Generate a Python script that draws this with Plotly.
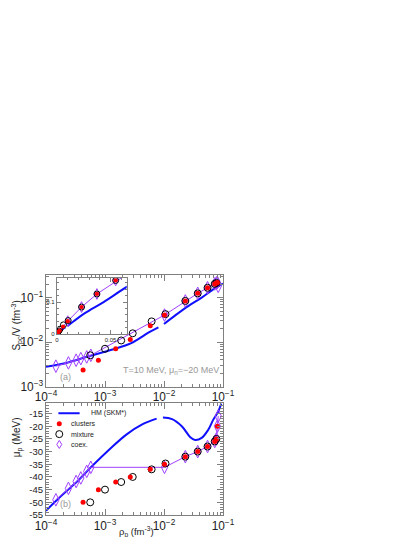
import plotly.graph_objects as go

# HM (SKM*) curves, S_pc/V vs rho (None = gap in the curve)
hm_rho_a = [1.0e-4, 2.2e-4, 5.3e-4, 1.29e-3, 2.79e-3, 5.62e-3, 8.04e-3, None,
            1.0e-2, 1.57e-2, 2.61e-2, 4.35e-2, 6.81e-2, 1.0e-1]
hm_spc = [2.78e-3, 3.4e-3, 4.81e-3, 6.75e-3, 9.5e-3, 1.67e-2, 2.15e-2, None,
          2.55e-2, 4.05e-2, 6.55e-2, 1.0e-1, 1.53e-1, 2.08e-1]

# HM (SKM*) curve, mu_p vs rho
hm_rho_b = [1.0e-4, 1.78e-4, 3.37e-4, 6.0e-4, 1.21e-3, 2.3e-3, 4.35e-3, 7.5e-3, None,
            9.6e-3, 1.37e-2, 2.02e-2, 2.79e-2, 3.37e-2, 4.35e-2, 5.62e-2, 6.81e-2,
            8.26e-2, 9.38e-2]
hm_mu = [-53.3, -47.6, -41.8, -35.8, -29.0, -23.3, -19.2, -17.0, None,
         -16.6, -17.2, -20.1, -24.3, -25.4, -24.6, -21.4, -17.5, -14.3, -11.0]

# clusters
clu_rho = [4.25e-4, 7.73e-4, 1.52e-3, 2.68e-3, 5.85e-3, 1.02e-2, 2.30e-2, 3.73e-2,
           5.47e-2, 7.24e-2, 7.73e-2, 8.04e-2]
clu_spc = [2.35e-3, 3.92e-3, 7.10e-3, 1.15e-2, 2.35e-2, 4.07e-2, 8.45e-2, 0.125,
           0.167, 0.204, 0.215, 0.22]
clu_mu = [-50, -45, -42, -40, -37, -35, -32, -30, -28, -26, -25, -20]

# mixture
mix_rho = [5.62e-4, 1.0e-3, 1.88e-3, 2.95e-3, 6.17e-3, 1.06e-2, 2.30e-2, 3.73e-2,
           5.47e-2, 7.24e-2, 7.73e-2]
mix_spc = [5.06e-3, 7.10e-3, 1.09e-2, 1.58e-2, 2.93e-2, 4.26e-2, 8.45e-2, 0.125,
           0.167, 0.204, 0.215]
mix_mu = [-50, -45, -42, -40, -37, -34.7, -32, -30, -28, -26, -25]

# coexistence
coex_rho = [1.47e-4, 2.40e-4, 3.24e-4, 3.89e-4, 4.90e-4, 5.75e-4, 1.02e-2, 2.30e-2,
            3.73e-2, 5.47e-2, 7.24e-2, 7.73e-2, 8.04e-2, 8.30e-2]
coex_spc = [2.88e-3, 3.41e-3, 3.92e-3, 4.26e-3, 4.65e-3, 5.06e-3, 4.07e-2, 8.45e-2,
            0.125, 0.167, 0.204, 0.215, 0.22, 0.18]
coex_mu = [-49.0, -44.5, -41.8, -40.4, -37.8, -36.2, -36.2, -32, -30, -28, -26, -25,
           -20, -16]

BLUE = "#1010ff"
PURPLE = "#a040ff"
GRAY = "#808080"
FONT = "Liberation Sans, Arial, sans-serif"

fig = go.Figure()


def add_series(x, y, xa, ya, msize=1.0):
    fig.add_trace(go.Scatter(
        x=x["hm"], y=y["hm"], xaxis=xa, yaxis=ya, mode="lines",
        line=dict(color=BLUE, width=2, shape="spline"), connectgaps=False,
        name="HM (SKM*)"))
    fig.add_trace(go.Scatter(
        x=x["coex"], y=y["coex"], xaxis=xa, yaxis=ya, mode="lines+markers",
        line=dict(color=PURPLE, width=1),
        marker=dict(symbol="diamond-tall-open", size=9 * msize, color=PURPLE,
                    line=dict(width=1)),
        name="coex."))
    fig.add_trace(go.Scatter(
        x=x["mix"], y=y["mix"], xaxis=xa, yaxis=ya, mode="markers",
        marker=dict(symbol="circle-open", size=7 * msize, color="black",
                    line=dict(width=1)),
        name="mixture"))
    fig.add_trace(go.Scatter(
        x=x["clu"], y=y["clu"], xaxis=xa, yaxis=ya, mode="markers",
        marker=dict(symbol="circle", size=5 * msize, color="#ff0000"),
        name="clusters"))


rho_a = dict(hm=hm_rho_a, coex=coex_rho, mix=mix_rho, clu=clu_rho)
spc = dict(hm=hm_spc, coex=coex_spc, mix=mix_spc, clu=clu_spc)
rho_b = dict(hm=hm_rho_b, coex=coex_rho, mix=mix_rho, clu=clu_rho)
mu = dict(hm=hm_mu, coex=coex_mu, mix=mix_mu, clu=clu_mu)

add_series(rho_a, spc, "x", "y")
add_series(rho_b, mu, "x2", "y2")
add_series(rho_a, spc, "x3", "y3", msize=0.85)

axis_style = dict(
    showline=True, linecolor=GRAY, linewidth=1, mirror="allticks",
    ticks="inside", ticklen=6, tickcolor=GRAY, showgrid=False, zeroline=False,
    tickfont=dict(size=9.5, color="#222", family=FONT),
)
log_x = dict(axis_style, type="log", range=[-4, -1], dtick=1, exponentformat="power",
             minor=dict(ticks="inside", ticklen=3, tickcolor=GRAY))
inset_style = dict(axis_style, ticklen=4, tickfont=dict(size=6, color="#222", family=FONT))

fig.update_layout(
    width=415, height=537,
    margin=dict(l=35, r=200, t=267, b=27),
    paper_bgcolor="white", plot_bgcolor="white",
    font=dict(family=FONT, size=10, color="#222"),
    showlegend=False,
    xaxis=dict(log_x, domain=[0, 1], anchor="y"),
    yaxis=dict(axis_style, type="log", range=[-3, -0.49], dtick=1,
               exponentformat="power", domain=[0.535, 1], anchor="x",
               minor=dict(ticks="inside", ticklen=3, tickcolor=GRAY)),
    xaxis2=dict(log_x, domain=[0, 1], anchor="y2"),
    yaxis2=dict(axis_style, range=[-55, -11], domain=[0, 0.465], anchor="x2",
                tickvals=[-55, -50, -45, -40, -35, -30, -25, -20, -15],
                ticktext=["-55", "-50", "-45", "-40", "-35", "-30", "-25", "-20", "-15"],
                minor=dict(ticks="inside", ticklen=3, tickcolor=GRAY, dtick=1)),
    xaxis3=dict(inset_style, range=[0, 0.065], domain=[0.061, 0.456], anchor="y3",
                tickvals=[0, 0.05], ticktext=["0", "0.05"],
                minor=dict(ticks="inside", ticklen=2, tickcolor=GRAY, dtick=0.01)),
    yaxis3=dict(inset_style, range=[0, 0.175], domain=[0.753, 0.988], anchor="x3",
                tickvals=[0, 0.1], ticktext=["0", "0.1"],
                minor=dict(ticks="inside", ticklen=2, tickcolor=GRAY, dtick=0.02)),
)

# legend of panel (b), drawn as keys + labels in paper space
leg_x = 0.075
leg_rows = [0.424, 0.380, 0.337, 0.294]
leg_font = dict(size=7, color="#222", family=FONT)
fig.add_shape(type="line", xref="paper", yref="paper", x0=0.07, x1=0.19,
              y0=leg_rows[0], y1=leg_rows[0], line=dict(color=BLUE, width=2))
fig.add_shape(type="circle", xref="paper", yref="paper", xsizemode="pixel",
              ysizemode="pixel", xanchor=leg_x, yanchor=leg_rows[1],
              x0=-2.5, x1=2.5, y0=-2.5, y1=2.5, fillcolor="#ff0000",
              line=dict(width=0))
fig.add_shape(type="circle", xref="paper", yref="paper", xsizemode="pixel",
              ysizemode="pixel", xanchor=leg_x, yanchor=leg_rows[2],
              x0=-3.5, x1=3.5, y0=-3.5, y1=3.5, line=dict(color="black", width=1))
fig.add_shape(type="path", xref="paper", yref="paper", xsizemode="pixel",
              ysizemode="pixel", xanchor=leg_x, yanchor=leg_rows[3],
              path="M 0 4 L 2.5 0 L 0 -4 L -2.5 0 Z", line=dict(color=PURPLE, width=1))
for text, row, lx in [("HM (SKM*)", 0, 0.25), ("clusters", 1, 0.135),
                      ("mixture", 2, 0.135), ("coex.", 3, 0.135)]:
    fig.add_annotation(xref="paper", yref="paper", x=lx, y=leg_rows[row],
                       xanchor="left", yanchor="middle", text=text,
                       showarrow=False, font=leg_font, borderpad=0)

grey_txt = dict(size=9, color="#999", family=FONT)
fig.add_annotation(xref="paper", yref="paper", x=0.99, y=0.601, xanchor="right",
                   yanchor="middle", text="T=10 MeV, μ<sub>n</sub>=−20 MeV",
                   showarrow=False, font=grey_txt)
fig.add_annotation(xref="paper", yref="paper", x=0.11, y=0.573, xanchor="center",
                   yanchor="middle", text="(a)", showarrow=False, font=grey_txt)
fig.add_annotation(xref="paper", yref="paper", x=0.11, y=0.045, xanchor="center",
                   yanchor="middle", text="(b)", showarrow=False, font=grey_txt)
fig.add_annotation(xref="paper", yref="paper", x=-0.163, y=0.79, textangle=-90,
                   xanchor="center", yanchor="middle",
                   text="S<sub>pc</sub>/V (fm<sup>-3</sup>)", showarrow=False,
                   font=dict(size=10, color="#222", family=FONT))
fig.add_annotation(xref="paper", yref="paper", x=-0.163, y=0.325, textangle=-90,
                   xanchor="center", yanchor="middle",
                   text="μ<sub>p</sub> (MeV)", showarrow=False,
                   font=dict(size=10, color="#222", family=FONT))
fig.add_annotation(xref="paper", yref="paper", x=0.51, y=-0.072, xanchor="center",
                   yanchor="middle", text="ρ<sub>p</sub> (fm<sup>-3</sup>)",
                   showarrow=False, font=dict(size=9.5, color="#222", family=FONT))

fig.write_html("out.html")
